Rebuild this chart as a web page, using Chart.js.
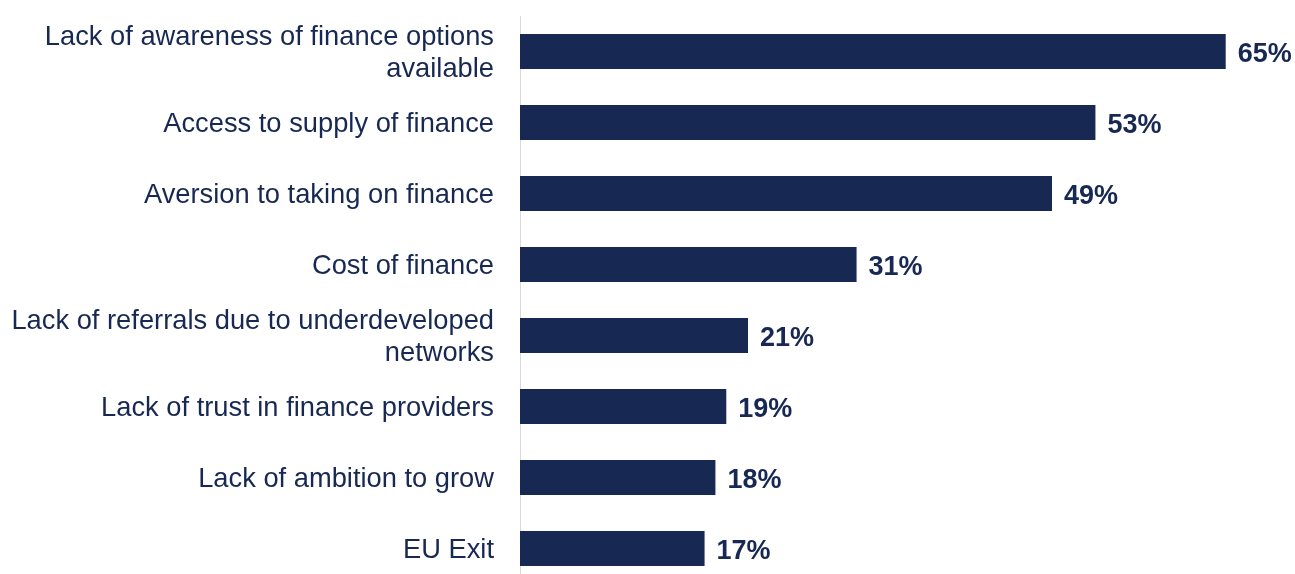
<!DOCTYPE html>
<html>
<head>
<meta charset="utf-8">
<script src="https://cdn.jsdelivr.net/npm/chart.js@4"></script>
<style>
  html, body { margin: 0; padding: 0; background: #fff; overflow: hidden; }
  canvas { display: block; }
</style>
</head>
<body>
<canvas id="barriers-chart" width="1295" height="584"></canvas>
<script>
var categories = [
  ['Lack of awareness of finance options', 'available'],
  'Access to supply of finance',
  'Aversion to taking on finance',
  'Cost of finance',
  ['Lack of referrals due to underdeveloped', 'networks'],
  'Lack of trust in finance providers',
  'Lack of ambition to grow',
  'EU Exit'
];
var shares = [65, 53, 49, 31, 21, 19, 18, 17];

var navy = '#172852';
var fontFamily = '"Liberation Sans", Arial, sans-serif';

// writes the percentage just past the end of each bar
var valueLabels = {
  id: 'valueLabels',
  afterDatasetsDraw: function (chart) {
    var ctx = chart.ctx;
    var meta = chart.getDatasetMeta(0);
    ctx.save();
    ctx.font = 'bold 27px ' + fontFamily;
    ctx.fillStyle = navy;
    ctx.textAlign = 'left';
    ctx.textBaseline = 'middle';
    meta.data.forEach(function (bar, i) {
      ctx.fillText(shares[i] + '%', bar.x + 12, bar.y + 3);
    });
    ctx.restore();
  }
};

var context = document.getElementById('barriers-chart').getContext('2d');
var chart = new Chart(context, {
  type: 'bar',
  data: {
    labels: categories,
    datasets: [
      {
        data: shares,
        backgroundColor: navy,
        borderWidth: 0,
        categoryPercentage: 1,
        barPercentage: 0.493,
      }
    ],
  },
  options: {
    indexAxis: 'y',
    animation: false,
    responsive: false,
    devicePixelRatio: 1,
    layout: {
      padding: { top: 16, right: 15, left: 0, bottom: 0 }
    },
    plugins: {
      legend: { display: false },
      tooltip: { enabled: false },
    },
    scales: {
      x: {
        display: false,
        min: 0,
        max: 70,
      },
      y: {
        afterFit: function (scale) {
          scale.width = 520;
          scale.paddingTop = 0;
          scale.paddingBottom = 0;
        },
        grid: { display: false, drawTicks: false },
        border: { display: true, color: '#d9d9d9', width: 1 },
        ticks: {
          padding: 26,
          labelOffset: 2,
          color: navy,
          font: {
            family: fontFamily,
            size: 27.3,
            lineHeight: 1.15,
          }
        }
      }
    },
  },
  plugins: [valueLabels]
});
</script>
</body>
</html>
